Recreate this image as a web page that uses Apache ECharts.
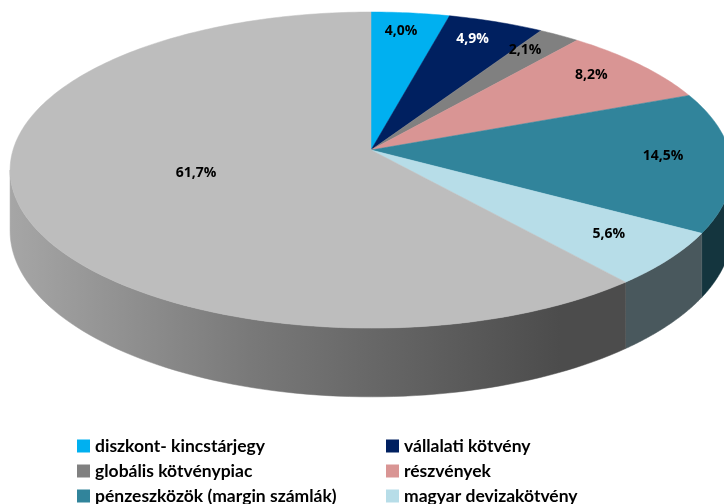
<!DOCTYPE html>
<html><head><meta charset="utf-8">
<script src="https://cdn.jsdelivr.net/npm/echarts@6/dist/echarts.min.js"></script>
<style>html,body{margin:0;padding:0;background:#fff}#c{width:724px;height:504px}</style>
</head><body><div id="c"></div>
<script>
// ---- data ----
const categories = ['diszkont- kincstárjegy','vállalati kötvény','globális kötvénypiac','részvények','pénzeszközök (margin számlák)','magyar devizakötvény','egyéb'];
const values = [4.0, 4.9, 2.1, 8.2, 14.5, 5.6, 61.7];
const colors = ['#00b0f0','#002060','#808080','#d99594','#31849b','#b7dde8','#bdbdbd'];
const labelColors = ['#000','#fff','#000','#000','#000','#000','#000'];
const legendLeft = [categories[0], categories[2], categories[4]];
const legendRight = [categories[1], categories[3], categories[5]];

// ---- geometry of the tilted disk ----
const CX = 371, CY = 150, RX = 358, RY = 155.5, K = -0.127, H = 60;
const total = values.reduce((a,b)=>a+b,0);
const starts = []; let acc = 0;
values.forEach(v => { starts.push(acc); acc += v; });
const TWO_PI = Math.PI*2;
function proj(theta, r) {
  const u = r*Math.sin(theta), v = -r*Math.cos(theta);
  const w = 1 + K*v;
  return [CX + RX*u/w, CY + RY*v/w, w];
}
function shade(hex, f) {
  const n = parseInt(hex.slice(1),16);
  const r = Math.round(((n>>16)&255)*f), g = Math.round(((n>>8)&255)*f), b = Math.round((n&255)*f);
  return 'rgb('+r+','+g+','+b+')';
}
function angles(i) {
  return [starts[i]/total*TWO_PI, (starts[i]+values[i])/total*TWO_PI];
}
const TS = Math.acos(K), TE = TWO_PI - Math.acos(K);

function renderWall(params, api) {
  const i = api.value(0);
  let [a0, a1] = angles(i);
  a0 = Math.max(a0, TS); a1 = Math.min(a1, TE);
  if (a1 <= a0) return null;
  const top = [], bot = [];
  const n = 80;
  for (let s = 0; s <= n; s++) {
    const t = a0 + (a1-a0)*s/n;
    const p = proj(t, 1);
    top.push([p[0], p[1]]);
    bot.push([p[0], p[1] + H/p[2]]);
  }
  const pts = top.concat(bot.reverse());
  const c = colors[i];
  const grad = new echarts.graphic.LinearGradient(0, 0, 724, 0, [
    {offset: 0, color: shade(c, 0.9)},
    {offset: 10/724, color: shade(c, 0.88)},
    {offset: 250/724, color: shade(c, 0.64)},
    {offset: 560/724, color: shade(c, 0.40)},
    {offset: 1, color: shade(c, 0.40)}
  ], true);
  return {type: 'polygon', shape: {points: pts}, style: {fill: grad, stroke: grad, lineWidth: 0.5}};
}

function renderTop(params, api) {
  const i = api.value(0);
  const [a0, a1] = angles(i);
  const pts = [[CX, CY]];
  const n = Math.max(10, Math.ceil((a1-a0)/TWO_PI*360));
  for (let s = 0; s <= n; s++) {
    const p = proj(a0 + (a1-a0)*s/n, 1);
    pts.push([p[0], p[1]]);
  }
  const mid = (a0+a1)/2;
  const lr = values[i] > 50 ? 0.5 : 0.82;
  const lp = proj(mid, lr);
  const txt = values[i].toFixed(1).replace('.', ',') + '%';
  return {type: 'group', children: [
    {type: 'polygon', shape: {points: pts}, style: {fill: colors[i], stroke: colors[i], lineWidth: 0.5}},
    {type: 'text', z2: 100, style: {text: txt, x: lp[0] - 3, y: lp[1] - 4, fill: labelColors[i],
      font: 'bold 14px "Open Sans"', align: 'center', verticalAlign: 'middle'}}
  ]};
}

const seriesData = values.map((v, i) => [i, v]);
const legendText = {fontFamily: 'Lato', fontWeight: 'bold', fontSize: 17.5, color: '#000', lineHeight: 18};

const chart = echarts.init(document.getElementById('c'), null, {renderer: 'canvas'});
chart.setOption({
  animation: false,
  legend: [
    {orient: 'vertical', left: 77, top: 437, height: 120, data: legendLeft, icon: 'rect', itemWidth: 13, itemHeight: 13, itemGap: 7, padding: 0, selectedMode: false, textStyle: legendText},
    {orient: 'vertical', left: 386, top: 437, height: 120, data: legendRight, icon: 'rect', itemWidth: 13, itemHeight: 13, itemGap: 7, padding: 0, selectedMode: false, textStyle: legendText}
  ],
  series: [
    {type: 'pie', silent: true, center: [-100, -100], radius: 1, label: {show: false}, labelLine: {show: false},
     data: categories.map((n, i) => ({name: n, value: values[i], itemStyle: {color: colors[i]}}))},
    {type: 'custom', coordinateSystem: 'none', silent: true, data: seriesData, renderItem: renderWall, z: 1},
    {type: 'custom', coordinateSystem: 'none', silent: true, data: seriesData, renderItem: renderTop, z: 2}
  ]
});
</script></body></html>
